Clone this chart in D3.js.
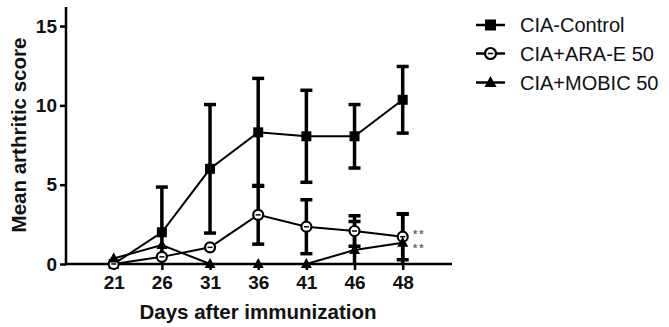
<!DOCTYPE html>
<html><head><meta charset="utf-8">
<script src="https://cdn.jsdelivr.net/npm/d3@7"></script>
<style>
body{margin:0;background:#fff;}
svg{display:block;font-family:"Liberation Sans",Arial,sans-serif;}
</style></head>
<body><svg id="c" width="669" height="327"></svg>
<script>
const days = ["21","26","31","36","41","46","48"];
const yTicks = [0,5,10,15];
const seriesNames = ["CIA-Control","CIA+ARA-E 50","CIA+MOBIC 50"];
const control = [0, 2.0, 6.0, 8.3, 8.05, 8.05, 10.35];
const controlErr = [0, 2.85, 4.05, 3.4, 2.9, 2.0, 2.1];
const ara = [0, 0.45, 1.05, 3.1, 2.35, 2.08, 1.72];
const araErr = [0, 0, 0, 1.85, 1.7, 0.96, 1.45];
const mobic = [0.35, 1.2, 0, 0, 0, 0.88, 1.34];
const mobicErr = [0, 0, 0, 0, 0, 1.8, 1.8];
const sigMarks = ["**","**"];

const svg = d3.select("#c");
const x = d3.scalePoint().domain(days).range([113.7, 402.7]);
const y = d3.scaleLinear().domain([0, 16.2]).range([264, 7]);
const x0 = 66, xEnd = 452;

const series = [
  {name: seriesNames[0], v: control, e: controlErr, sym: "square"},
  {name: seriesNames[1], v: ara, e: araErr, sym: "circle"},
  {name: seriesNames[2], v: mobic, e: mobicErr, sym: "triangle"}
];

// axes
const yAxis = d3.axisLeft(y).tickValues(yTicks).tickSize(6).tickSizeOuter(0).tickPadding(3);
const gy = svg.append("g").attr("transform", `translate(${x0},0)`).call(yAxis);
gy.select(".domain").remove();
gy.selectAll(".tick line").attr("stroke","#000").attr("stroke-width",2.5);
gy.selectAll(".tick text").attr("font-size",19).attr("font-weight","bold").attr("fill","#111")
  .attr("font-family",'"Liberation Sans",Arial,sans-serif');
svg.append("line").attr("x1",x0).attr("x2",x0).attr("y1",y(0)+1).attr("y2",y(16.2))
  .attr("stroke","#000").attr("stroke-width",2.5);

const xAxis = d3.axisBottom(x).tickSize(6).tickSizeOuter(0).tickPadding(6);
const gx = svg.append("g").attr("transform", `translate(0,${y(0)})`).call(xAxis);
gx.select(".domain").remove();
gx.selectAll(".tick line").attr("stroke","#000").attr("stroke-width",2.5);
gx.selectAll(".tick text").attr("font-size",19).attr("font-weight","bold").attr("fill","#111")
  .attr("font-family",'"Liberation Sans",Arial,sans-serif');
svg.append("line").attr("x1",x0-1.25).attr("x2",xEnd).attr("y1",y(0)).attr("y2",y(0))
  .attr("stroke","#000").attr("stroke-width",2.5);

// titles
svg.append("text").attr("x",258).attr("y",319).attr("text-anchor","middle")
  .attr("font-size",20.5).attr("font-weight","bold").attr("fill","#111").text("Days after immunization");
svg.append("text").attr("transform","translate(26,135) rotate(-90)").attr("text-anchor","middle")
  .attr("font-size",20.5).attr("font-weight","bold").attr("fill","#111").text("Mean arthritic score");

// lines
const line = d3.line().x((d,i)=>x(days[i])).y(d=>y(d));
series.forEach(s=>{
  svg.append("path").attr("d", line(s.v)).attr("fill","none").attr("stroke","#000").attr("stroke-width",2);
});

// error bars
const capW = 6;
series.forEach(s=>{
  s.v.forEach((v,i)=>{
    const e = s.e[i];
    if (!e) return;
    const cx = x(days[i]);
    const hi = v + e, lo = Math.max(0, v - e);
    svg.append("line").attr("x1",cx).attr("x2",cx).attr("y1",y(lo)).attr("y2",y(hi))
      .attr("stroke","#000").attr("stroke-width",3.5);
    svg.append("line").attr("x1",cx-capW).attr("x2",cx+capW).attr("y1",y(hi)).attr("y2",y(hi))
      .attr("stroke","#000").attr("stroke-width",3.5);
    if (v - e > 0) {
      svg.append("line").attr("x1",cx-capW).attr("x2",cx+capW).attr("y1",y(lo)).attr("y2",y(lo))
        .attr("stroke","#000").attr("stroke-width",3.5);
    }
  });
});

function drawMarker(g, sym, cx, cy, scale) {
  const k = scale || 1;
  if (sym === "square") {
    g.append("rect").attr("x",cx-5*k).attr("y",cy-5*k).attr("width",10*k).attr("height",10*k).attr("fill","#000");
  } else if (sym === "circle") {
    g.append("circle").attr("cx",cx).attr("cy",cy).attr("r",5*k).attr("fill","#fff").attr("stroke","#000").attr("stroke-width",2.2);
    g.append("line").attr("x1",cx-2.5*k).attr("x2",cx+2.5*k).attr("y1",cy).attr("y2",cy).attr("stroke","#000").attr("stroke-width",1.5);
  } else {
    const h = 10*k, w = 11*k;
    g.append("path").attr("d",`M${cx},${cy-h*0.6}L${cx+w/2},${cy+h*0.4}L${cx-w/2},${cy+h*0.4}Z`).attr("fill","#000");
  }
}

// markers
series.forEach(s=>{
  const g = svg.append("g");
  s.v.forEach((v,i)=>drawMarker(g, s.sym, x(days[i]), y(v)));
});

// significance
svg.append("text").attr("x",413).attr("y",237.8).attr("font-size",11).attr("letter-spacing",2)
  .attr("font-weight","bold").attr("fill","#666").text(sigMarks[0]);
svg.append("text").attr("x",413).attr("y",251.5).attr("font-size",11).attr("letter-spacing",2)
  .attr("font-weight","bold").attr("fill","#666").text(sigMarks[1]);

// legend
const legY = [25, 53.5, 82.5];
series.forEach((s,i)=>{
  const g = svg.append("g");
  g.append("line").attr("x1",476).attr("x2",505).attr("y1",legY[i]).attr("y2",legY[i]).attr("stroke","#000").attr("stroke-width",2.5);
  drawMarker(g, s.sym, 490.5, legY[i], 1.1);
  g.append("text").attr("x",520).attr("y",legY[i]+7).attr("font-size",20).attr("fill","#111").text(s.name);
});
</script></body></html>
